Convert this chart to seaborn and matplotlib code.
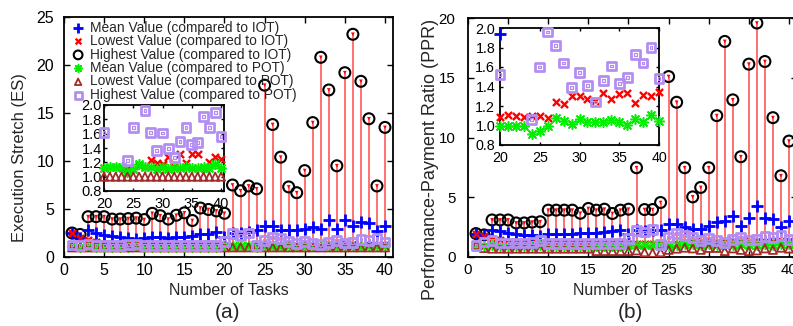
import matplotlib
matplotlib.use("Agg")
import matplotlib.pyplot as plt
import pandas as pd
import seaborn as sns

# ---------------- data ----------------
tasks = list(range(1, 41))

# Panel (a): Execution Stretch (ES)
es_mean_iot = [2.47, 2.0, 2.8, 2.47, 2.3, 2.19, 2.05, 2.0, 1.87, 2.0, 2.05, 2.05, 2.0, 2.05, 2.12,
               2.22, 2.36, 2.4, 2.57, 2.1, 2.47, 2.47, 2.64, 2.81, 3.26, 3.23, 2.81, 2.81, 2.81, 2.92,
               3.09, 2.92, 3.85, 2.92, 3.85, 3.26, 3.61, 3.57, 2.74, 3.26]
es_low_iot = [2.45, 1.95, 1.75, 1.6, 1.35, 1.25, 1.2, 1.2, 1.2, 1.2, 1.2, 1.2, 1.2, 1.2, 1.2,
              1.2, 1.2, 1.2, 1.2, 1.12, 1.13, 1.13, 1.12, 1.11, 1.11, 1.16, 1.13, 1.23, 1.19, 1.18,
              1.28, 1.13, 1.31, 1.19, 1.31, 1.31, 1.12, 1.20, 1.27, 1.24]
es_high_iot = [2.5, 2.35, 4.2, 4.2, 4.2, 3.95, 3.95, 4.0, 4.05, 3.9, 4.55, 4.3, 3.95, 4.35, 4.6,
               3.8, 5.1, 4.95, 4.8, 4.55, 7.5, 6.9, 7.4, 7.1, 17.9, 13.8, 10.4, 7.3, 6.7, 9.0,
               14.0, 20.8, 17.4, 9.5, 19.2, 23.2, 18.3, 14.4, 7.4, 13.5]
es_mean_pot = [1.1, 1.05, 1.1, 1.05, 1.05, 1.05, 1.05, 1.05, 1.1, 1.05, 1.05, 1.05, 1.05, 1.05, 1.05,
               1.05, 1.05, 1.05, 1.05, 1.12, 1.13, 1.14, 1.13, 1.06, 1.11, 1.17, 1.13, 1.14, 1.1, 1.14,
               1.11, 1.12, 1.12, 1.13, 1.12, 1.12, 1.13, 1.12, 1.17, 1.12]
es_low_pot = [1.0, 1.0, 1.0, 1.0, 1.0, 1.0, 1.0, 1.0, 1.0, 1.0, 1.0, 1.0, 1.0, 1.0, 1.0,
              1.0, 1.0, 1.0, 1.0, 1.0, 1.0, 1.0, 1.0, 1.0, 1.0, 1.0, 1.0, 1.0, 1.0, 1.0,
              1.0, 1.0, 1.0, 1.0, 1.0, 1.0, 1.0, 1.0, 1.0, 1.0]
es_high_pot = [1.25, 1.2, 1.35, 1.2, 1.2, 1.2, 1.2, 1.3, 1.35, 1.2, 1.2, 1.2, 1.2, 1.2, 1.2,
               1.2, 1.2, 1.2, 1.2, 1.62, 2.45, 2.2, 2.5, 1.23, 1.69, 2.05, 1.92, 1.62, 1.37, 1.61,
               1.39, 1.27, 1.49, 1.69, 1.45, 1.48, 1.84, 1.69, 1.90, 1.56]

# Panel (b): Performance-Payment Ratio (PPR)
ppr_mean_iot = [1.96, 1.8, 2.3, 2.16, 2.05, 1.96, 1.88, 1.82, 1.76, 1.9, 1.96, 1.96, 1.96, 2.05, 2.05,
                2.05, 2.1, 2.16, 2.24, 1.94, 2.24, 2.16, 2.3, 2.24, 2.8, 2.8, 2.52, 2.38, 2.38, 2.6,
                2.94, 3.02, 3.41, 2.6, 3.3, 4.28, 3.28, 3.22, 2.52, 3.0]
ppr_low_iot = [1.96, 1.74, 1.54, 1.45, 1.2, 1.15, 1.15, 1.15, 1.15, 1.15, 1.15, 1.15, 1.15, 1.15, 1.15,
               1.15, 1.15, 1.15, 1.15, 1.09, 1.11, 1.10, 1.09, 1.10, 1.10, 1.08, 1.24, 1.22, 1.30, 1.30,
               1.27, 1.25, 1.33, 1.27, 1.32, 1.33, 1.23, 1.31, 1.30, 1.34]
ppr_high_iot = [1.96, 1.85, 3.1, 3.1, 3.1, 2.85, 2.85, 2.92, 2.95, 3.92, 3.92, 3.92, 3.92, 3.66, 4.06,
                3.92, 4.0, 3.64, 3.92, 4.0, 7.47, 3.97, 3.97, 4.56, 15.1, 12.95, 7.47, 5.03, 5.82, 7.47,
                11.83, 18.04, 13.15, 8.39, 16.14, 19.58, 16.36, 11.66, 6.8, 9.7]
ppr_mean_pot = [0.95, 0.95, 1.0, 0.95, 0.95, 0.95, 0.95, 0.95, 1.0, 0.95, 0.95, 0.95, 0.95, 0.95, 0.95,
                0.95, 0.95, 0.95, 0.95, 0.99, 1.0, 0.99, 0.99, 0.91, 0.94, 1.0, 1.08, 1.05, 1.02, 1.07,
                1.04, 1.04, 1.04, 1.06, 1.04, 1.01, 1.07, 1.04, 1.11, 1.05]
ppr_low_pot = [1.0, 0.75, 0.7, 0.7, 0.7, 0.7, 0.7, 0.7, 0.7, 0.7, 0.7, 0.7, 0.7, 0.7, 0.7,
               0.5, 0.5, 0.5, 0.5, 0.5, 0.55, 0.4, 0.35, 0.4, 0.6, 0.7, 0.78, 0.72, 0.6, 0.76,
               0.76, 0.5, 0.72, 0.6, 0.5, 0.55, 0.72, 0.6, 0.78, 0.7]
ppr_high_pot = [0.98, 1.26, 1.4, 1.17, 1.17, 1.17, 1.17, 1.2, 1.4, 1.15, 1.15, 1.15, 1.15, 1.15, 1.15,
                1.15, 1.15, 1.15, 1.15, 1.52, 2.24, 2.1, 2.3, 1.06, 1.60, 1.96, 1.82, 1.64, 1.39, 1.54,
                1.41, 1.24, 1.46, 1.61, 1.43, 1.49, 1.73, 1.64, 1.80, 1.48]

series_keys = ["mean_iot", "low_iot", "high_iot", "mean_pot", "low_pot", "high_pot"]
series_labels = ["Mean Value (compared to IOT)", "Lowest Value (compared to IOT)",
                 "Highest Value (compared to IOT)", "Mean Value (compared to POT)",
                 "Lowest Value (compared to POT)", "Highest Value (compared to POT)"]
x_label = "Number of Tasks"
y_label_a = "Execution Stretch (ES)"
y_label_b = "Performance-Payment Ratio (PPR)"

df_a = pd.DataFrame({"task": tasks, "mean_iot": es_mean_iot, "low_iot": es_low_iot,
                     "high_iot": es_high_iot, "mean_pot": es_mean_pot,
                     "low_pot": es_low_pot, "high_pot": es_high_pot})
df_b = pd.DataFrame({"task": tasks, "mean_iot": ppr_mean_iot, "low_iot": ppr_low_iot,
                     "high_iot": ppr_high_iot, "mean_pot": ppr_mean_pot,
                     "low_pot": ppr_low_pot, "high_pot": ppr_high_pot})

# ---------------- style ----------------
sns.set_style("ticks")
plt.rcParams["font.family"] = ["Liberation Sans", "DejaVu Sans"]

PURPLE = "#b38ef2"
STYLES = {
    "mean_iot": dict(marker="+", s=72, color="#0000ff", linewidth=2.0, zorder=4),
    "low_iot": dict(marker="x", s=26, color="#ff0000", linewidth=1.7, zorder=4),
    "high_iot": dict(marker="o", s=62, color="black", facecolor="none", edgecolor="black",
                     linewidth=1.5, zorder=3),
    "mean_pot": dict(marker=(8, 2, 0), s=48, color="#00ee00", linewidth=1.15, zorder=5),
    "low_pot": dict(marker="^", s=34, color="#a52a2a", facecolor="none", edgecolor="#a52a2a",
                    linewidth=1.3, zorder=5),
    "high_pot": dict(marker="s", s=40, color=PURPLE, facecolor="none", edgecolor=PURPLE,
                     linewidth=2.0, zorder=6),
}

W, H = 793, 326
fig = plt.figure(figsize=(W / 100, H / 100), dpi=100)


def rect(l, t, r, b):
    return [l / W, 1 - b / H, (r - l) / W, (b - t) / H]


def draw_series(ax, df, inset=False, ylim=None, xmin=None):
    for key, lab in zip(series_keys, series_labels):
        d = df
        if inset:
            d = df[(df[key] >= ylim[0]) & (df[key] <= ylim[1]) & (df["task"] >= xmin)]
        st = dict(STYLES[key])
        sns.scatterplot(data=d, x="task", y=key, ax=ax, legend=False,
                        label=None if inset else lab, clip_on=not inset, **st)
        if key == "high_pot":
            sns.scatterplot(data=d, x="task", y=key, ax=ax, legend=False, marker="s", s=4,
                            color=PURPLE, facecolor="none", edgecolor=PURPLE, linewidth=0.9,
                            zorder=6, clip_on=not inset)


def style_axes(ax, lsize, pad_y=6, pad_x=4):
    for sp in ax.spines.values():
        sp.set_linewidth(1.3)
        sp.set_color("black")
        sp.set_visible(True)
    ax.tick_params(direction="in", top=True, right=True, length=4, width=1,
                   labelsize=lsize, colors="black")
    ax.tick_params(axis="y", pad=pad_y)
    ax.tick_params(axis="x", pad=pad_x)


def main_panel(df, box, ylim, yticks, ylab, ylab_size, ylab_x, ylab_y, tick_size, ypad, legend):
    ax = fig.add_axes(rect(*box))
    ax.vlines(df["task"], df["low_iot"], df["high_iot"], colors="#ff2a2a", linewidth=1.1,
              alpha=0.85, zorder=1)
    sns.scatterplot(data=df, x="task", y="high_iot", ax=ax, legend=False, marker="v", s=7,
                    color="#ff0000", edgecolor="none", zorder=3.5)
    draw_series(ax, df)
    ax.set_xlim(0, 41)
    ax.set_ylim(*ylim)
    ax.set_xticks([0, 5, 10, 15, 20, 25, 30, 35, 40])
    ax.set_yticks(yticks)
    style_axes(ax, tick_size, pad_y=ypad, pad_x=4)
    ax.set_xlabel(x_label, fontsize=11.5, va="center")
    ax.set_ylabel(ylab, fontsize=ylab_size, va="center")
    ax.xaxis.set_label_coords(0.5, -0.14)
    ax.yaxis.set_label_coords(ylab_x, ylab_y)
    if legend:
        h, l = ax.get_legend_handles_labels()
        ax.legend(h, l, loc="upper left", bbox_to_anchor=(0.022, 0.985), frameon=False,
                  fontsize=9.9, handlelength=1.0, handletextpad=0.4, borderpad=0,
                  borderaxespad=0, labelspacing=-0.04, markerscale=0.8)
    return ax


def inset_panel(df, box, xlim, tick_size, ypad, xpad):
    ax = fig.add_axes(rect(*box))
    ax.set_facecolor("white")
    ylim = (0.8, 2.0)
    draw_series(ax, df, inset=True, ylim=ylim, xmin=xlim[0])
    ax.set_xlim(*xlim)
    ax.set_ylim(*ylim)
    ax.set_xticks([20, 25, 30, 35, 40])
    ax.set_yticks([0.8, 1.0, 1.2, 1.4, 1.6, 1.8, 2.0])
    ax.set_yticklabels(["0.8", "1.0", "1.2", "1.4", "1.6", "1.8", "2.0"])
    style_axes(ax, tick_size, pad_y=ypad, pad_x=xpad)
    ax.tick_params(length=2)
    ax.set_xlabel("")
    ax.set_ylabel("")
    ax.set_zorder(10)
    return ax


ax_a = main_panel(df_a, (64, 17, 393, 257), (0, 25), [0, 5, 10, 15, 20, 25], y_label_a, 12,
                  -0.135, 0.415, 11.5, 7, True)
ax_b = main_panel(df_b, (468, 18, 797, 257), (0, 20), [0, 5, 10, 15, 20], y_label_b, 13,
                  -0.115, 0.41, 10.8, 9, False)
inset_panel(df_a, (104, 105, 224, 191), (20, 40.5), 10.5, 1.5, 4)
inset_panel(df_b, (500, 28, 659, 145), (20, 40), 10.3, 3.5, 4)

fig.text(228 / W, 1 - 313 / H, "(a)", ha="center", va="center", fontsize=15)
fig.text(630 / W, 1 - 313 / H, "(b)", ha="center", va="center", fontsize=15)

fig.savefig("out.png", dpi=100)
